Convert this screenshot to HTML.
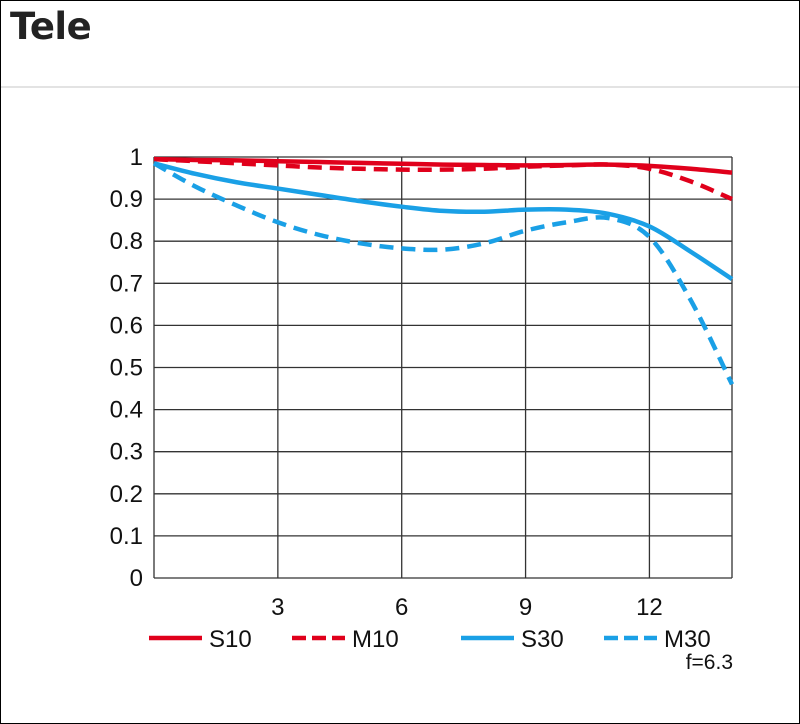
<!DOCTYPE html>
<html><head><meta charset="utf-8"><style>
html,body{margin:0;padding:0;background:#fff}
#wrap{position:relative;width:798px;height:722px;border:1px solid #000;overflow:hidden}
#title{position:absolute;left:9px;top:4px;font:bold 37px "DejaVu Sans","Liberation Sans",sans-serif;color:#222;letter-spacing:-0.5px}
#sep{position:absolute;left:0;top:85px;width:798px;height:2px;background:#e3e3e3}
svg{position:absolute;left:0;top:0}
text{font-family:"Liberation Sans",sans-serif;fill:#111}
</style></head><body>
<div id="wrap">
<div id="title">Tele</div>
<div id="sep"></div>
<svg id="chart" width="798" height="722"></svg>
</div>
<script>
const xTicks=[3,6,9,12];
const yTicks=[0,0.1,0.2,0.3,0.4,0.5,0.6,0.7,0.8,0.9,1];
const yTickLabels=["0","0.1","0.2","0.3","0.4","0.5","0.6","0.7","0.8","0.9","1"];
const xs=[0,1,2,3,4,5,6,7,8,9,10,11,12,13,14];
const s10=[0.995,0.993,0.992,0.99,0.988,0.986,0.984,0.982,0.981,0.98,0.981,0.982,0.979,0.972,0.963];
const m10=[0.995,0.99,0.985,0.98,0.975,0.972,0.97,0.97,0.972,0.977,0.98,0.982,0.972,0.942,0.9];
const s30=[0.985,0.96,0.94,0.925,0.91,0.895,0.882,0.872,0.87,0.875,0.875,0.865,0.835,0.775,0.71];
const m30=[0.985,0.93,0.885,0.845,0.815,0.795,0.783,0.78,0.795,0.825,0.845,0.855,0.81,0.66,0.46];
const seriesNames=["S10","M10","S30","M30"];
const X0=153,X1=731,Y0=577,Y1=156,XMAX=14;
const sx=v=>X0+(X1-X0)*v/XMAX, sy=v=>Y0-(Y0-Y1)*v;
const svg=document.getElementById('chart'),NS='http://www.w3.org/2000/svg';
function mk(t,a){const e=document.createElementNS(NS,t);for(const k in a)e.setAttribute(k,a[k]);svg.appendChild(e);return e;}
yTicks.forEach((v,i)=>{
 const l=mk('line',{x1:X0,x2:X1,y1:sy(v),y2:sy(v),stroke:'#333','stroke-width':1.3});
 
 
 const t=mk('text',{x:142,y:sy(v)+8,'text-anchor':'end','font-size':24});
 t.textContent=yTickLabels[i];
 
 
});
xTicks.forEach(v=>{
 const l=mk('line',{x1:sx(v),x2:sx(v),y1:Y1,y2:Y0,stroke:'#333','stroke-width':1.3});
 
 
 const t=mk('text',{x:sx(v),y:614,'text-anchor':'middle','font-size':24});
 t.textContent=String(v);
 
 
});
[X0,X1].forEach(x=>{const l=mk('line',{x1:x,x2:x,y1:Y1,y2:Y0,stroke:'#333','stroke-width':1.3});
 
 });
function pathD(vals){
 const p=xs.map((x,i)=>[sx(x),sy(vals[i])]);
 let d='M'+p[0][0]+','+p[0][1];
 for(let i=0;i<p.length-1;i++){
  const a=p[Math.max(0,i-1)],b=p[i],c=p[i+1],e=p[Math.min(p.length-1,i+2)];
  d+=` C${b[0]+(c[0]-a[0])/6},${b[1]+(c[1]-a[1])/6} ${c[0]-(e[0]-b[0])/6},${c[1]-(e[1]-b[1])/6} ${c[0]},${c[1]}`;
 }
 return d;
}
const styles=[['#e0001b',''],['#e0001b','14,8'],['#1aa0e6',''],['#1aa0e6','14,8']];
[s10,m10,s30,m30].forEach((vals,i)=>{
 const p=mk('path',{d:pathD(vals),fill:'none',stroke:styles[i][0],'stroke-width':4.5});
 if(styles[i][1])p.setAttribute('stroke-dasharray',styles[i][1]);
 
 
});
const lx=[148,291,460,603];
seriesNames.forEach((n,i)=>{
 const l=mk('line',{x1:lx[i],x2:lx[i]+53,y1:637,y2:637,stroke:styles[i][0],'stroke-width':4.5});
 if(styles[i][1])l.setAttribute('stroke-dasharray','14,6');
 
 
 const t=mk('text',{x:lx[i]+60,y:646,'font-size':24});
 t.textContent=n;
 
 
});
const f=mk('text',{x:732,y:668,'text-anchor':'end','font-size':21});
f.textContent='f=6.3';


</script>
</body></html>
